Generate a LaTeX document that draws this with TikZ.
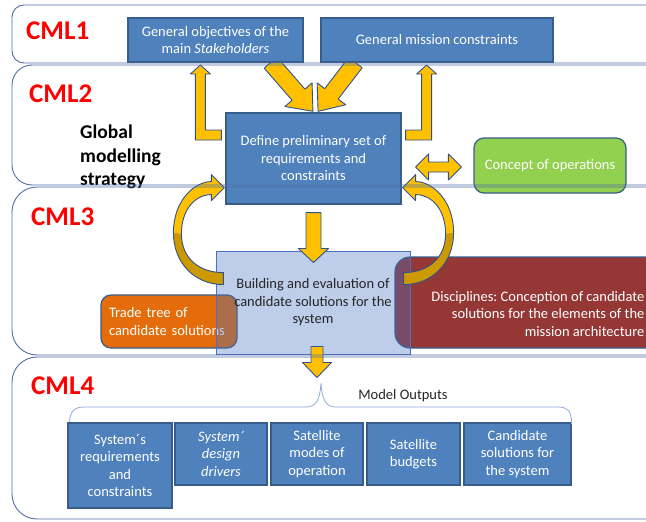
\documentclass[tikz,border=0pt]{standalone}
\usepackage{fontspec}
\setmainfont{Carlito}
\usetikzlibrary{calc}
\definecolor{boxblue}{RGB}{79,129,189}
\definecolor{boxedge}{RGB}{56,93,138}
\definecolor{bandline}{RGB}{79,110,165}
\definecolor{arrowgold}{RGB}{255,192,0}
\definecolor{arrowshade}{RGB}{204,153,0}
\definecolor{arrowedge}{RGB}{47,82,143}
\definecolor{conceptgreen}{RGB}{146,208,80}
\definecolor{tradeorange}{RGB}{228,108,10}
\definecolor{discred}{RGB}{149,55,53}
\definecolor{buildblue}{RGB}{68,114,196}
\definecolor{bracecol}{RGB}{143,170,220}
\definecolor{cmlred}{RGB}{255,0,0}

\newcommand{\boxfont}{\fontsize{14.5}{17.5}\selectfont}
\frenchspacing

\pgfdeclarelayer{back}
\pgfsetlayers{back,main}

% straight block arrow: start, end, half shaft, half head, head length
\newcommand{\fatarrow}[5]{%
  \path let \p1=(#1), \p2=(#2), \n1={atan2(\y2-\y1,\x2-\x1)}, \n2={veclen(\x2-\x1,\y2-\y1)} in
    \pgfextra{\xdef\fatangle{\n1}\xdef\fatlength{\n2}};
  \filldraw[blockarrow, shift={(#1)}, rotate=\fatangle]
    (0pt,-#3pt) -- ({\fatlength-#5pt},-#3pt) -- ({\fatlength-#5pt},-#4pt) -- ({\fatlength+0pt},0pt)
    -- ({\fatlength-#5pt},#4pt) -- ({\fatlength-#5pt},#3pt) -- (0pt,#3pt) -- cycle;
}
% same with a head at both ends
\newcommand{\fatdarrow}[5]{%
  \path let \p1=(#1), \p2=(#2), \n1={atan2(\y2-\y1,\x2-\x1)}, \n2={veclen(\x2-\x1,\y2-\y1)} in
    \pgfextra{\xdef\fatangle{\n1}\xdef\fatlength{\n2}};
  \filldraw[blockarrow, shift={(#1)}, rotate=\fatangle]
    (0pt,0pt) -- (#5pt,#4pt) -- (#5pt,#3pt) -- ({\fatlength-#5pt},#3pt) -- ({\fatlength-#5pt},#4pt)
    -- ({\fatlength+0pt},0pt) -- ({\fatlength-#5pt},-#4pt) -- ({\fatlength-#5pt},-#3pt)
    -- (#5pt,-#3pt) -- (#5pt,-#4pt) -- cycle;
}

\tikzset{
  upbend/.pic={
    \filldraw[blockarrow] (-4,-28.5) -- (-20,-28.5) -- (-20,-84.5) -- (-15,-84.5) -- (-25,-93.5)
      -- (-35,-84.5) -- (-30,-84.5) -- (-30,-18.5) -- (-4,-18.5) -- cycle;
  },
  loopback/.pic={
    \fill[arrowshade] (-2,80) .. controls (-31,80) and (-52,58) .. (-52,28) -- (-44,29)
      .. controls (-44,54) and (-26,68) .. (-2,68) -- cycle;
    \fill[arrowgold] (-52,28) .. controls (-52,-4) and (-31,-23) .. (-14,-23) -- (-14,-30) -- (-1,-17)
      -- (-14,-4) -- (-14,-10) .. controls (-31,-10) and (-44,6) .. (-44,29) -- cycle;
    \draw[draw=arrowedge, line width=0.9pt, line join=round] (-2,80) .. controls (-31,80) and (-52,58) .. (-52,28)
      .. controls (-52,-4) and (-31,-23) .. (-14,-23) -- (-14,-30) -- (-1,-17) -- (-14,-4) -- (-14,-10)
      .. controls (-31,-10) and (-44,6) .. (-44,29) .. controls (-44,54) and (-26,68) .. (-2,68) -- cycle;
  }
}

\begin{document}
\begin{tikzpicture}[x=1pt, y=-1pt,
  bluebox/.style={draw=boxedge, fill=boxblue, line width=1.2pt, text=white, align=center, inner sep=0pt, font=\boxfont},
  roundbox/.style={draw=boxedge, line width=1.2pt, rounded corners=10pt, text=white, inner sep=0pt, font=\boxfont},
  blockarrow/.style={fill=arrowgold, draw=arrowedge, line width=0.9pt, line join=round},
  band/.style={draw=bandline, line width=0.9pt},
  cml/.style={text=cmlred, font=\fontsize{27}{30}\selectfont\bfseries, inner sep=0pt, anchor=west},
  note/.style={text=black!85, font=\boxfont, inner sep=0pt}]
\useasboundingbox (0,0) rectangle (646,522);
\clip (0,0) rectangle (646,522);
\begin{pgfonlayer}{back}
\fill[white] (0,0) rectangle (646,522);
\end{pgfonlayer}

% CML1 / CML2
\node[bluebox, minimum width=175pt, minimum height=44pt] (obj) at (215.5,40) {General objectives of the\\main \textit{Stakeholders}};
\node[bluebox, minimum width=232pt, minimum height=44pt] (cons) at (437,40) {General mission constraints};
\node[bluebox, minimum width=175pt, minimum height=91pt] (define) at (313.5,158.5) {Define preliminary set of\\requirements and\\constraints};
\node[roundbox, fill=conceptgreen, minimum width=152pt, minimum height=55pt] (concept) at (550,165.5) {Concept of operations};

% CML3
\node[roundbox, fill=tradeorange, text width=120pt, inner xsep=8pt, minimum height=53pt, align=left] (trade) at (169,321.5) {Trade tree of\\candidate solutions};
\node[roundbox, fill=discred, rounded corners=15pt, minimum width=286pt, minimum height=91pt] (disc) at (538,302.5) {};
\node[text=white, font=\boxfont, align=right, inner sep=0pt, anchor=east] (disctext) at ($(disc.east)+(-37,11.5)$) {Disciplines: Conception of candidate\\solutions for the elements of the\\mission architecture};
\node[bluebox, draw=buildblue, fill=buildblue, fill opacity=0.35, text opacity=1, text=black!85, line width=1pt, minimum width=194pt, minimum height=103pt] (build) at (313,302.5) {Building and evaluation of\\candidate solutions for the\\system};

% CML4
\node[bluebox, minimum width=104pt, minimum height=85pt] (out1) at (120,465.5) {System´s\\requirements\\and\\constraints};
\node[bluebox, minimum width=92pt, minimum height=62pt, font=\boxfont\itshape] (out2) at (221,454) {System´\\design\\drivers};
\node[bluebox, minimum width=92pt, minimum height=62pt] (out3) at (317,454) {Satellite\\modes of\\operation};
\node[bluebox, minimum width=93pt, minimum height=62pt] (out4) at (413.5,454) {Satellite\\budgets};
\node[bluebox, minimum width=107pt, minimum height=62pt] (out5) at (517.5,454) {Candidate\\solutions for\\the system};
\node[note] (outputs) at (403,396) {Model Outputs};
\draw[bracecol, line width=0.8pt] ($(out1.north west)+(2,0)$) .. controls (70,412) and (74,407) .. (84,407) -- (306,407)
  .. controls (316,407) and (320,400) .. (321,383) .. controls (322,400) and (326,407) .. (336,407) -- (558,407)
  .. controls (568,407) and (572,412) .. ($(out5.north east)+(0,2)$);

% labels
\node[cml] (cml1) at (26,31) {CML1};
\node[cml] (cml2) at (29,94) {CML2};
\node[cml] (cml3) at (31,216.5) {CML3};
\node[cml] (cml4) at (31,385.5) {CML4};
\node[font=\fontsize{19.5}{23.5}\selectfont\bfseries, align=left, inner sep=0pt, anchor=north west] (global) at (80,125) {Global\\modelling\\strategy};

% arrows
\coordinate (objout) at ($(obj.south east)+(-33,0)$);
\coordinate (consout) at ($(cons.south west)+(35,0)$);
\coordinate (defin1) at ($(define.north)+(-0.5,-1)$);
\coordinate (defin2) at ($(define.north)+(4.5,-1)$);
\begin{pgfonlayer}{back}
\fatarrow{objout}{defin1}{8.5}{18}{22}
\fatarrow{consout}{defin2}{8.5}{18}{22}
\end{pgfonlayer}
\pic at (define.west) {upbend};
\pic[xscale=-1] at (define.east) {upbend};
\pic at (define.south west) {loopback};
\pic[xscale=-1] at (define.south east) {loopback};
\coordinate (defout) at ($(define.south)+(0,8)$);
\coordinate (buildin) at ($(build.north)+(0.5,12)$);
\fatarrow{defout}{buildin}{7.5}{15}{14}
\coordinate (buildout) at ($(build.south)+(4,-8)$);
\coordinate (brace) at ($(build.south)+(4,23)$);
\fatarrow{buildout}{brace}{6}{14.5}{15}
\coordinate (opsL) at ($(define.east)+(14,8.5)$);
\coordinate (opsR) at ($(concept.west)+(-12,1.5)$);
\fatdarrow{opsL}{opsR}{5}{13}{13}

% bands
\draw[band, rounded corners=12pt] (12,5) rectangle (700,63);
\draw[band, rounded corners=20pt] (12,65) rectangle (700,185);
\draw[band, rounded corners=25pt] (12,187) rectangle (700,355);
\draw[band, rounded corners=25pt] (12,357) rectangle (700,519);
\end{tikzpicture}
\end{document}
